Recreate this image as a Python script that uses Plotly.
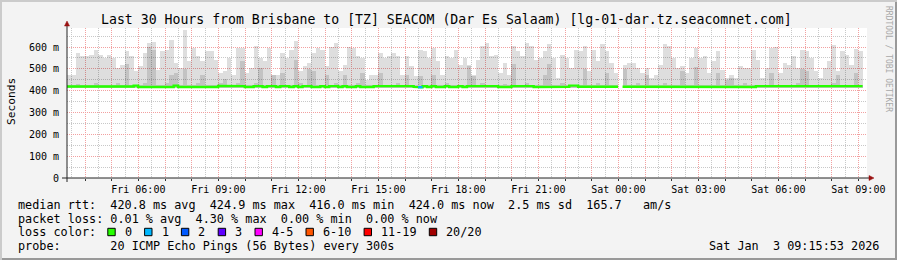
import pandas as pd
import plotly.graph_objects as go

# ---------------- data ----------------
t_start = "2026-01-02 03:19:30"
t_end = "2026-01-03 09:19:30"
step = pd.Timedelta(minutes=10)
base_ms = 412  # lowest ping (bottom of smoke)

# max ping (top of smoke) per 10-minute step, ms
top_a = [473, 470, 572, 557, 557, 565, 587, 565, 549, 565, 549, 503, 519, 580, 557, 488, 511, 572,
         618, 625, 496, 580, 587, 633, 526, 503, 679, 534, 595, 557, 534, 580, 580, 541, 480, 488]
top_b = [549, 473, 595, 595, 481, 503, 603, 549, 534, 595, 473, 473, 572, 549, 587, 626, 488, 511,
         526, 572, 595, 587, 511, 601, 618, 488, 519, 601, 595, 557, 549, 450, 473, 473, 572, 549]
top_c = [557, 572, 557, 473, 557, 511, 465, 587, 580, 549, 595, 534, 473, 557, 549, 587, 519, 549,
         519, 473, 541, 603, 618, 557, 565, 481, 526, 473, 603, 580, 557, 617, 603, 541, 549, 580]
top_d = [613, 549, 458, 565, 549, 503, 587, 580, 603, 488, 587, 534, 616, 580, 526, 481, None, 519,
         526, 526, 503, 481, 503, 458, 473, 519, 613, 603, 549, 503, 511, 481, 549, 596, 549, 557]
top_e = [481, 534, 580, 496, 458, 473, 458, 511, 503, 503, 587, 541, 458, 503, 595, 600, 481, 526,
         519, 557, 503, 587, 583, 549, 488, 458, 503, 534, 610, 488, 580, 565, 519, 592, 580]

# inner (darker) smoke band top per step, ms
mid_a = [424, 424, 430, 424, 424, 424, 435, 424, 424, 424, 424, 435, 424, 520, 424, 424, 424, 435,
         600, 585, 424, 424, 435, 470, 480, 424, 500, 424, 424, 435, 470, 424, 424, 424, 435, 455]
mid_b = [424, 424, 435, 534, 424, 424, 435, 503, 424, 424, 470, 424, 480, 424, 424, 540, 435, 424,
         500, 490, 424, 424, 470, 424, 435, 424, 470, 424, 424, 435, 480, 424, 424, 424, 480, 424]
mid_c = [424, 424, 435, 424, 470, 424, 424, 465, 424, 424, 470, 424, 424, 435, 424, 424, 424, 424,
         515, 465, 424, 435, 424, 424, 424, 424, 430, 424, 520, 424, 424, 435, 424, 424, 424, 470]
mid_d = [520, 424, 424, 435, 424, 424, 424, 424, 500, 424, 424, 435, 424, 480, 424, 424, None, 500,
         424, 424, 435, 424, 470, 424, 424, 424, 435, 424, 424, 424, 490, 424, 424, 510, 424, 424]
mid_e = [424, 424, 480, 424, 450, 460, 424, 424, 435, 424, 424, 424, 424, 424, 480, 424, 424, 424,
         424, 424, 435, 500, 490, 424, 424, 424, 424, 424, 435, 470, 424, 424, 424, 480, 424]

# median rtt per step, ms
med_a = [419, 419, 419, 419, 419, 419, 419, 419, 419, 419, 419, 419, 419, 419, 419, 423, 417, 417,
         417, 417, 417, 417, 417, 417, 423, 417, 417, 417, 417, 417, 417, 417, 417, 417, 422, 422]
med_b = [421, 421, 421, 421, 417, 417, 421, 421, 417, 421, 421, 417, 421, 421, 417, 421, 417, 421,
         421, 417, 417, 421, 417, 421, 421, 417, 421, 417, 417, 421, 417, 417, 417, 421, 423, 421]
med_c = [421, 421, 421, 421, 421, 421, 417, 416, 421, 417, 421, 417, 417, 421, 417, 417, 421, 417,
         421, 421, 421, 421, 421, 421, 421, 417, 417, 417, 421, 421, 421, 421, 421, 417, 417, 417]
med_d = [418, 418, 418, 418, 418, 423, 423, 418, 418, 418, 418, 418, 418, 418, 418, 418, None, 418,
         418, 418, 418, 418, 418, 418, 418, 418, 418, 418, 418, 418, 418, 418, 418, 418, 418, 418]
med_e = [417, 417, 417, 417, 417, 417, 417, 417, 417, 417, 417, 421, 421, 421, 421, 421, 421, 421,
         421, 421, 421, 421, 421, 421, 421, 421, 421, 421, 421, 421, 421, 421, 421, 421, 421]

# lost pings per step (out of 20)
loss_a = [0, 0, 0, 0, 0, 0, 0, 0, 0, 0, 0, 0, 0, 0, 0, 0, 0, 0,
          0, 0, 0, 0, 0, 0, 0, 0, 0, 0, 0, 0, 0, 0, 0, 0, 0, 0]
loss_b = [0, 0, 0, 0, 0, 0, 0, 0, 0, 0, 0, 0, 0, 0, 0, 0, 0, 0,
          0, 0, 0, 0, 0, 0, 0, 0, 0, 0, 0, 0, 0, 0, 0, 0, 0, 0]
loss_c = [0, 0, 0, 0, 0, 0, 0, 1, 0, 0, 0, 0, 0, 0, 0, 0, 0, 0,
          0, 0, 0, 0, 0, 0, 0, 0, 0, 0, 0, 0, 0, 0, 0, 0, 0, 0]
loss_d = [0, 0, 0, 0, 0, 0, 0, 0, 0, 0, 0, 0, 0, 0, 0, 0, 0, 0,
          0, 0, 0, 0, 0, 0, 0, 0, 0, 0, 0, 0, 0, 0, 0, 0, 0, 0]
loss_e = [0, 0, 0, 0, 0, 0, 0, 0, 0, 0, 0, 0, 0, 0, 0, 0, 0, 0,
          0, 0, 0, 0, 0, 0, 0, 0, 0, 0, 0, 0, 0, 0, 0, 0, 0]

top_ms = top_a + top_b + top_c + top_d + top_e
mid_ms = mid_a + mid_b + mid_c + mid_d + mid_e
med_ms = med_a + med_b + med_c + med_d + med_e
loss = loss_a + loss_b + loss_c + loss_d + loss_e

y_tick_vals = [0, 0.1, 0.2, 0.3, 0.4, 0.5, 0.6]
y_tick_text = ["0", "100 m", "200 m", "300 m", "400 m", "500 m", "600 m"]
y_max = 0.687

loss_labels = ["0", "1", "2", "3", "4-5", "6-10", "11-19", "20/20"]
loss_colors = ["#26ff00", "#00b8ff", "#0059ff", "#5e00ff", "#ff00ff", "#ff5500", "#ff0000", "#a10000"]

title = "Last 30 Hours from Brisbane to [TZ] SEACOM (Dar Es Salaam) [lg-01-dar.tz.seacomnet.com]"
row1 = "median rtt:  420.8 ms avg  424.9 ms max  416.0 ms min  424.0 ms now  2.5 ms sd  165.7   am/s"
row2 = "packet loss: 0.01 % avg  4.30 % max  0.00 % min  0.00 % now"
row3 = "loss color:"
row4 = "probe:       20 ICMP Echo Pings (56 Bytes) every 300s"
date_text = "Sat Jan  3 09:15:53 2026"

# ---------------- geometry ----------------
W, H = 897, 260
L, R, T, B = 67, 867, 28, 178
MONO = "DejaVu Sans Mono"
CW = 7.1  # monospace advance at legend font size


def px(x):
    return (x - L) / (R - L)


def py(y):
    return (B - y) / (B - T)


n = len(top_ms)
starts = pd.date_range(t_start, periods=n, freq=step)
centers = starts + step / 2
ends = starts + step

fig = go.Figure()

# smoke (outer band)
fig.add_trace(go.Bar(
    x=centers, base=base_ms / 1000,
    y=[None if v is None else (v - base_ms) / 1000 for v in top_ms],
    width=step.total_seconds() * 1000,
    marker=dict(color="rgba(0,0,0,0.13)", line=dict(width=0)),
    hoverinfo="skip"))
# smoke (inner band)
fig.add_trace(go.Bar(
    x=centers, base=base_ms / 1000,
    y=[None if v is None else (v - base_ms) / 1000 for v in mid_ms],
    width=step.total_seconds() * 1000,
    marker=dict(color="rgba(0,0,0,0.12)", line=dict(width=0)),
    hoverinfo="skip"))

# median line (green, continuous steps)
mx, my = [], []
for s, e, v in zip(starts, ends, med_ms):
    if v is None:
        mx.append(None)
        my.append(None)
        continue
    mx += [s, e]
    my += [v / 1000, v / 1000]
fig.add_trace(go.Scatter(x=mx, y=my, mode="lines", line=dict(color=loss_colors[0], width=2.4),
                         hoverinfo="skip"))
# loss-coloured segments
lx, ly = [], []
for s, e, v, l in zip(starts, ends, med_ms, loss):
    if v is not None and l == 1:
        lx += [s, e, None]
        ly += [v / 1000, v / 1000, None]
fig.add_trace(go.Scatter(x=lx, y=ly, mode="lines", line=dict(color=loss_colors[1], width=2.4),
                         hoverinfo="skip"))

hours = pd.date_range("2026-01-02 04:00", "2026-01-03 09:00", freq="1h")
hour_text = [h.strftime("%a %H:%M") if h.hour % 3 == 0 else "" for h in hours]

fig.update_layout(
    width=W, height=H,
    margin=dict(l=L, r=W - R, t=T, b=H - B, pad=0),
    paper_bgcolor="#f3f3f3", plot_bgcolor="#ffffff",
    showlegend=False, barmode="overlay", bargap=0,
    font=dict(family=MONO, color="#000000"),
    xaxis=dict(type="date", range=[t_start, t_end], tickvals=hours, ticktext=hour_text,
               ticks="outside", ticklen=2, tickcolor="#333333", tickfont=dict(size=10, family=MONO),
               showgrid=True, gridcolor="#f2a0a0", griddash="1px,1px", gridwidth=1,
               minor=dict(dtick=1800000, tick0="2026-01-02 00:30", showgrid=True,
                          gridcolor="#c8c8c8", griddash="1px,1px", ticks=""),
               zeroline=False, showline=False, fixedrange=True),
    yaxis=dict(range=[0, y_max], tickvals=y_tick_vals, ticktext=y_tick_text, ticks="",
               tickfont=dict(size=10, family=MONO), ticklabelstandoff=7,
               showgrid=True, gridcolor="#f2a0a0", griddash="1px,1px", gridwidth=1,
               minor=dict(dtick=0.05, showgrid=True, gridcolor="#c8c8c8", griddash="1px,1px"),
               zeroline=False, showline=False, fixedrange=True),
)

shapes = []
# frame shading
shapes.append(dict(type="rect", xref="paper", yref="paper", x0=px(0), x1=px(W), y0=py(0), y1=py(2),
                   fillcolor="#cbcbcb", line=dict(width=0)))
shapes.append(dict(type="rect", xref="paper", yref="paper", x0=px(0), x1=px(2), y0=py(0), y1=py(H),
                   fillcolor="#cbcbcb", line=dict(width=0)))
shapes.append(dict(type="rect", xref="paper", yref="paper", x0=px(2), x1=px(W), y0=py(H - 2), y1=py(H),
                   fillcolor="#999999", line=dict(width=0)))
shapes.append(dict(type="rect", xref="paper", yref="paper", x0=px(W - 2), x1=px(W), y0=py(2), y1=py(H),
                   fillcolor="#999999", line=dict(width=0)))
# axis lines
shapes.append(dict(type="line", xref="paper", yref="paper", x0=px(62), x1=px(869), y0=0, y1=0,
                   line=dict(color="#222222", width=1)))
shapes.append(dict(type="line", xref="paper", yref="paper", x0=0, x1=0, y0=py(182), y1=py(25),
                   line=dict(color="#222222", width=1)))
# arrow heads
shapes.append(dict(type="path", xref="paper", yref="paper",
                   path=f"M {px(64.5)} {py(26)} L {px(67)} {py(21)} L {px(69.5)} {py(26)} Z",
                   fillcolor="#991111", line=dict(color="#991111", width=0.5)))
shapes.append(dict(type="path", xref="paper", yref="paper",
                   path=f"M {px(869)} {py(175.5)} L {px(874)} {py(178)} L {px(869)} {py(180.5)} Z",
                   fillcolor="#991111", line=dict(color="#991111", width=0.5)))

annotations = []


def add_text(text, x, y, size=11.8, xanchor="left", color="#000000", angle=0):
    annotations.append(dict(text=text.replace(" ", "\u00a0"), x=px(x), y=py(y), xref="paper", yref="paper",
                            xanchor=xanchor, yanchor="middle", showarrow=False, textangle=angle,
                            font=dict(family=MONO, size=size, color=color)))


add_text(title, 446.3, 19.5, size=13.2, xanchor="center")
add_text("Seconds", 11, 101, size=11.2, xanchor="center", angle=-90)
add_text("RRDTOOL / TOBI OETIKER", 889, 59, size=8, xanchor="center", color="#a8a8a8", angle=90)

add_text(row1, 16, 204.5)
add_text(row2, 16, 218.5)
add_text(row3, 16, 232)
add_text(row4, 16, 246.5)
add_text(date_text, 881, 246.5, xanchor="right")

# loss colour swatches
bx = 16 + 13 * CW - 0.5
for lab, col in zip(loss_labels, loss_colors):
    shapes.append(dict(type="rect", xref="paper", yref="paper", x0=px(bx), x1=px(bx + 7.4),
                       y0=py(228.3), y1=py(235.7), fillcolor=col, line=dict(color="#000000", width=1)))
    add_text(lab, bx + 15, 232)
    bx = bx + 15 + CW * len(lab) + 14.7

fig.update_layout(shapes=shapes, annotations=annotations)
fig.write_html("out.html")
